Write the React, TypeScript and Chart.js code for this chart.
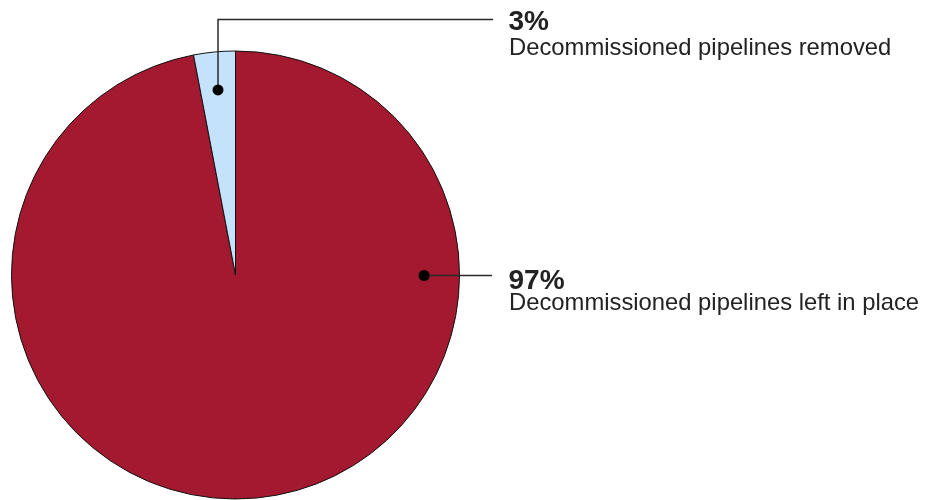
import React, { useEffect, useRef } from "react";
import { Chart, registerables } from "chart.js";

Chart.register(...registerables);

const categories = ["Decommissioned pipelines left in place", "Decommissioned pipelines removed"];
const values = [97, 3];
const percentLabels = ["97%", "3%"];
const colors = ["#A3192F", "#C5E2FC"];

const FONT = "'Liberation Sans', Arial, Helvetica, sans-serif";

const annotationPlugin = {
  id: "pieAnnotations",
  afterDraw(chart: any) {
    const ctx = chart.ctx as CanvasRenderingContext2D;
    const meta = chart.getDatasetMeta(0);
    const redArc = meta.data[0] as any;
    const blueArc = meta.data[1] as any;
    if (!redArc || !blueArc) return;
    const cx = redArc.x;
    const cy = redArc.y;
    const r = redArc.outerRadius;

    // blue slice dot at mid angle
    const mid = (blueArc.startAngle + blueArc.endAngle) / 2;
    const bx = cx + Math.cos(mid) * r * 0.83;
    const by = cy + Math.sin(mid) * r * 0.83;
    // red slice dot at 3 o'clock
    const rx = cx + r * 0.842;
    const ry = cy + 0.5;

    ctx.save();
    ctx.strokeStyle = "#2a2a2a";
    ctx.lineWidth = 1.5;
    ctx.beginPath();
    ctx.moveTo(bx, by);
    ctx.lineTo(bx, 19.5);
    ctx.lineTo(493, 19.5);
    ctx.stroke();

    ctx.beginPath();
    ctx.moveTo(rx, ry);
    ctx.lineTo(492, ry);
    ctx.stroke();

    ctx.fillStyle = "#000000";
    ctx.beginPath();
    ctx.arc(bx, by, 5.5, 0, Math.PI * 2);
    ctx.fill();
    ctx.beginPath();
    ctx.arc(rx, ry, 5.5, 0, Math.PI * 2);
    ctx.fill();

    ctx.fillStyle = "#222222";
    ctx.textAlign = "left";
    ctx.textBaseline = "alphabetic";
    ctx.font = `bold 28px ${FONT}`;
    ctx.fillText(percentLabels[1], 508.5, 29.5);
    ctx.fillText(percentLabels[0], 508.5, 288.5);
    ctx.font = `23.8px ${FONT}`;
    ctx.fillText(categories[1], 509, 55);
    ctx.fillText(categories[0], 509, 310);
    ctx.restore();
  },
};

export default function App() {
  const canvasRef = useRef<HTMLCanvasElement | null>(null);

  useEffect(() => {
    if (!canvasRef.current) return;
    const chart = new Chart(canvasRef.current, {
      type: "pie",
      data: {
        labels: categories,
        datasets: [
          {
            data: values,
            backgroundColor: colors,
            borderColor: "#111111",
            borderWidth: 1,
            hoverOffset: 0,
            offset: 0,
          },
        ],
      },
      options: {
        animation: false,
        responsive: true,
        maintainAspectRatio: false,
        events: [],
        layout: { padding: { left: 11, top: 50, right: 476, bottom: 0 } },
        plugins: {
          legend: { display: false },
          tooltip: { enabled: false },
        },
      },
      plugins: [annotationPlugin],
    });
    return () => chart.destroy();
  }, []);

  return (
    <div style={{ position: "fixed", left: 0, top: 0, width: 936, height: 500, background: "#ffffff" }}>
      <canvas ref={canvasRef} />
    </div>
  );
}
